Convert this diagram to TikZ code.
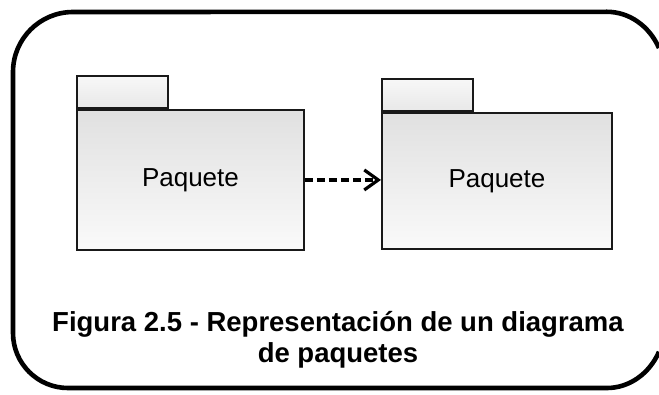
\documentclass[tikz,border=0pt]{standalone}
\usepackage{fontspec}
\setmainfont{Liberation Sans}
\usetikzlibrary{arrows.meta}
\begin{document}
\begin{tikzpicture}[x=1pt,y=-1pt,
  pkgbody/.style={draw=black!90, line width=1.9pt, top color=black!12, bottom color=black!2,
    inner sep=0pt, anchor=north west, font=\fontsize{26}{30}\selectfont},
  pkgtab/.style={draw=black!90, line width=1.9pt, top color=black!3, bottom color=black!9,
    inner sep=0pt, anchor=south west, minimum width=91pt, minimum height=32pt},
  frame/.style={draw=black, line width=4.6pt},
  dep/.style={line width=3.4pt, dash pattern=on 8pt off 4pt,
    -{Straight Barb[length=14pt,width=20pt,line width=3.2pt]}},
  caption/.style={font=\bfseries\fontsize{27.5}{31}\selectfont, align=center, inner sep=0pt}
]
\useasboundingbox (0,0) rectangle (659,394);
\begin{scope}
\clip (0,0) rectangle (659,394);
\draw[frame] (659,48) arc[start angle=26.3, end angle=90, x radius=58pt, y radius=65pt]
  -- (73,12) arc[start angle=90, end angle=180, radius=60pt]
  -- (13,333) arc[start angle=180, end angle=270, radius=55pt]
  -- (607,388) arc[start angle=270, end angle=333.7, x radius=58pt, y radius=65pt];
\end{scope}
% left package
\node[pkgbody, minimum width=227pt, minimum height=140pt] (b1) at (76,109) {Paquete};
\node[pkgtab] (t1) at (b1.north west) {};
% right package
\node[pkgbody, minimum width=230pt, minimum height=136pt] (b2) at (381,112) {Paquete};
\node[pkgtab] (t2) at (b2.north west) {};
% dependency
\draw[dep] (b1.east) -- (b1.east -| b2.west);
% caption
\node[caption] (cap) at (338,340) {Figura 2.5 - Representación de un diagrama\\de paquetes};
\end{tikzpicture}
\end{document}
